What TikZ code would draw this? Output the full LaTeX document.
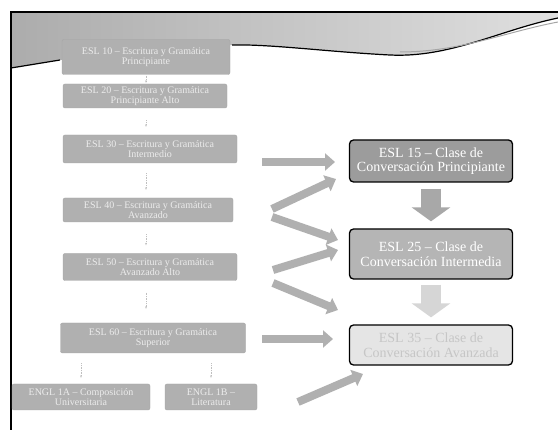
\documentclass[tikz,border=0pt]{standalone}
\usepackage{fontspec}
\setmainfont{Liberation Serif}
\usetikzlibrary{arrows.meta,shadings,calc}
\begin{document}
\begin{tikzpicture}[x=1pt,y=-1pt,
  leftbox/.style={draw=gray!70, fill=gray!62, rounded corners=2pt, text=white!85!gray,
    align=center, font=\fontsize{10}{10.5}\selectfont, inner sep=1pt},
  rbox/.style={draw=black, line width=1.3pt, rounded corners=4pt, align=center,
    minimum width=163pt, font=\fontsize{14}{14.5}\selectfont, inner sep=1pt},
  bigarrow/.style={line width=8pt, draw=gray!62, -{Triangle[length=10pt,width=17pt]}},
  downarrow/.style={line width=20pt, -{Triangle[length=14pt,width=38pt]}},
  tinyarrow/.style={gray!50, densely dotted, line width=0.7pt, -{Stealth[length=2.5pt]}}]
\useasboundingbox (0,0) rectangle (558,430);
\fill[white] (0,0) rectangle (558,430);
% top band
\shade[left color=gray!65, right color=gray!25] (11,12) -- (558,12) -- (558,18)
  .. controls (500,30) and (450,58) .. (390,55)
  .. controls (330,52) and (270,44) .. (232,45)
  -- (60,60) -- (11,68) -- cycle;
\draw[line width=1.2pt] (11,68) -- (60,60) (232,45) .. controls (270,44) and (330,52) .. (390,55)
  .. controls (450,58) and (500,30) .. (558,18);
\draw[gray!70, line width=1pt] (400,52) .. controls (460,52) and (505,32) .. (558,22);
% frame
\draw[line width=1.8pt] (11,430) -- (11,12) -- (558,12);
% left column
\node[leftbox, minimum width=168pt, minimum height=35pt] (l1) at (146,57) {ESL 10 -- Escritura y Gramática\\Principiante};
\node[leftbox, minimum width=164pt, minimum height=24pt] (l2) at (145,96) {ESL 20 -- Escritura y Gramática\\Principiante Alto};
\node[leftbox, minimum width=174pt, minimum height=28pt] (l3) at (150,149) {ESL 30 -- Escritura y Gramática\\Intermedio};
\node[leftbox, minimum width=170pt, minimum height=24pt] (l4) at (148,210) {ESL 40 -- Escritura y Gramática\\Avanzado};
\node[leftbox, minimum width=174pt, minimum height=27pt] (l5) at (150,267) {ESL 50 -- Escritura y Gramática\\Avanzado Alto};
\node[leftbox, minimum width=185pt, minimum height=30pt] (l6) at (153,338) {ESL 60 -- Escritura y Gramática\\Superior};
\node[leftbox, minimum width=138pt, minimum height=26pt] (l7) at (81,397) {ENGL 1A -- Composición\\Universitaria};
\node[leftbox, minimum width=92pt, minimum height=26pt] (l8) at (211,397) {ENGL 1B --\\Literatura};
\draw[tinyarrow] ([yshift=-1pt]l1.south) -- ([yshift=1pt]l2.north -| l1.south);
\draw[tinyarrow] ([yshift=-12pt]l2.south -| l1.south) -- ([yshift=8pt]l3.north -| l1.south);
\draw[tinyarrow] ([yshift=-10pt]l3.south -| l1.south) -- ([yshift=8pt]l4.north -| l1.south);
\draw[tinyarrow] ([yshift=-12pt]l4.south -| l1.south) -- ([yshift=8pt]l5.north -| l1.south);
\draw[tinyarrow] ([yshift=-12pt]l5.south -| l1.south) -- ([yshift=14pt]l6.north -| l1.south);
\draw[tinyarrow] ([yshift=-10pt]l6.south -| l7.north) -- ([yshift=6pt]l7.north);
\draw[tinyarrow] ([yshift=-10pt]l6.south -| l8.north) -- ([yshift=6pt]l8.north);
% right column
\node[rbox, fill=gray!78, text=white, minimum height=42pt] (r1) at (431,161) {ESL 15 -- Clase de\\Conversación Principiante};
\node[rbox, fill=gray!58, text=white, minimum height=50pt] (r2) at (431,254) {ESL 25 -- Clase de\\Conversación Intermedia};
\node[rbox, fill=gray!20, text=gray!45, minimum height=40pt] (r3) at (431,345) {ESL 35 -- Clase de\\Conversación Avanzada};
\draw[downarrow, gray!68] ([yshift=-6pt]r1.south) -- ([yshift=7pt]r2.north);
\draw[downarrow, gray!32] ([yshift=-5pt]r2.south) -- ([yshift=7pt]r3.north);
% big arrows
\coordinate (s1) at (262,162); \coordinate (e1) at (335,162);
\coordinate (s2) at (272,209); \coordinate (e2) at (336,179);
\coordinate (s3) at (272,217); \coordinate (e3) at (338,240);
\coordinate (s4) at (273,270); \coordinate (e4) at (338,250);
\coordinate (s5) at (273,283); \coordinate (e5) at (338,310);
\coordinate (s6) at (262,339); \coordinate (e6) at (333,339);
\coordinate (s7) at (298,402); \coordinate (e7) at (363,374);
\foreach \i in {1,...,7} {\draw[bigarrow] (s\i) -- (e\i);}
\end{tikzpicture}
\end{document}
